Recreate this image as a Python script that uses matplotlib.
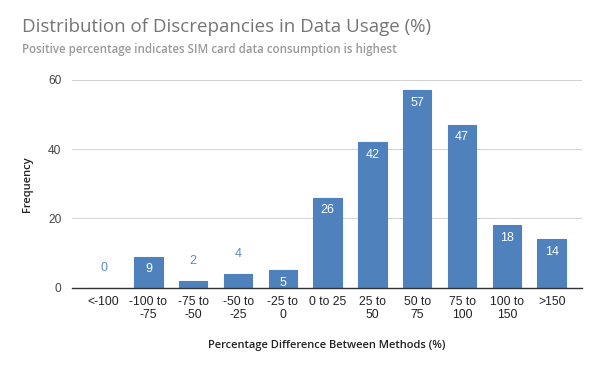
import matplotlib
matplotlib.use("Agg")
import matplotlib.pyplot as plt

categories = ["<-100", "-100 to\n-75", "-75 to\n-50", "-50 to\n-25", "-25 to\n0",
              "0 to 25", "25 to\n50", "50 to\n75", "75 to\n100", "100 to\n150", ">150"]
frequency = [0, 9, 2, 4, 5, 26, 42, 57, 47, 18, 14]
y_ticks = [0, 20, 40, 60]

title = "Distribution of Discrepancies in Data Usage (%)"
subtitle = "Positive percentage indicates SIM card data consumption is highest"
x_label = "Percentage Difference Between Methods (%)"
y_label = "Frequency"

bar_color = "#4f81bd"
W, H = 600, 371
fig = plt.figure(figsize=(6, 3.71), dpi=100)
ax = fig.add_axes([72.3 / W, (H - 287.7) / H, (581.7 - 72.3) / W, (287.7 - 79.7) / H])

x = list(range(len(categories)))
bars = ax.bar(x, frequency, width=0.634, color=bar_color, edgecolor=bar_color,
              linewidth=0.8, joinstyle="round", zorder=3)

ax.set_xlim(-0.70, 10.67)
ax.set_ylim(0, 60)
ax.set_yticks(y_ticks)
ax.set_yticklabels([str(t) for t in y_ticks], fontfamily="Liberation Sans", fontsize=8.6, color="#444444")
ax.set_xticks(x)
ax.set_xticklabels(categories, fontfamily="Liberation Sans", fontsize=8.7, color="#222222",
                   linespacing=1.15)
ax.tick_params(axis="both", length=0)
ax.tick_params(axis="x", pad=6)
ax.tick_params(axis="y", pad=8)
ax.grid(axis="y", color="#d3d3d3", linewidth=0.75, zorder=0)
for s in ["top", "right", "left"]:
    ax.spines[s].set_visible(False)
ax.spines["bottom"].set_color("#333333")
ax.spines["bottom"].set_linewidth(1.0)
ax.spines["bottom"].set_zorder(4)

# data labels
for xi, v in zip(x, frequency):
    if v < 5:
        ax.annotate(str(v), (xi, v), xytext=(0, 14), textcoords="offset points",
                    ha="center", va="center", fontsize=9, color="#5a8ac6",
                    fontfamily="Liberation Sans")
    else:
        ax.annotate(str(v), (xi, v), xytext=(0, -9), textcoords="offset points",
                    ha="center", va="center", fontsize=9, color="white",
                    fontfamily="Liberation Sans", zorder=5)

fig.text(22 / W, 1 - 27 / H, title, fontsize=13.5, color="#757575",
         fontfamily="Open Sans", ha="left", va="center")
fig.text(22 / W, 1 - 50 / H, subtitle, fontsize=8.3, color="#999999",
         fontfamily="Open Sans", fontweight="semibold", ha="left", va="center")
fig.text(327 / W, 1 - 345.7 / H, x_label, fontsize=8, color="#222222",
         fontfamily="Open Sans", fontweight="semibold", ha="center", va="center")
fig.text(27 / W, 1 - 184 / H, y_label, fontsize=8, color="#222222",
         fontfamily="Open Sans", fontweight="semibold", ha="center", va="center", rotation=90)

fig.savefig("out.png", dpi=100, facecolor="white")
